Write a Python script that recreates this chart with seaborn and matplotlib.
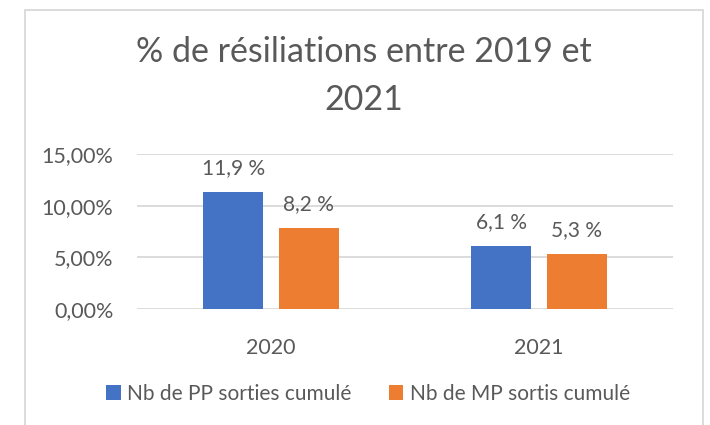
import matplotlib
matplotlib.use("Agg")
import matplotlib.pyplot as plt
import matplotlib.ticker as mticker
from matplotlib.patches import Rectangle
import seaborn as sns
import pandas as pd

years = ["2020", "2021"]
series = ["Nb de PP sorties cumulé", "Nb de MP sortis cumulé"]
pp_values = [11.35, 6.1]
mp_values = [7.8, 5.3]
pp_labels = ["11,9 %", "6,1 %"]
mp_labels = ["8,2 %", "5,3 %"]
yticks = [0, 5, 10, 15]
title = "% de résiliations entre 2019 et\n2021"

colors = ["#4472C4", "#ED7D31"]
text_color = "#595959"
grid_color = "#D9D9D9"

df = pd.DataFrame({
    "year": years * 2,
    "series": [series[0]] * len(years) + [series[1]] * len(years),
    "value": pp_values + mp_values,
})

sns.set_theme(style="white")
plt.rcParams["font.family"] = ["Lato", "DejaVu Sans"]

W, H = 710, 425
fig = plt.figure(figsize=(W / 100, H / 100), dpi=100)
ax = fig.add_axes([137 / W, 1 - 309 / H, (673 - 137) / W, (309 - 154) / H])

sns.barplot(data=df, x="year", y="value", hue="series", order=years,
            hue_order=series, palette=colors, width=0.56, gap=0.2,
            saturation=1, ax=ax, legend=True, edgecolor="none")

for cont, labs in zip(ax.containers, [pp_labels, mp_labels]):
    ax.bar_label(cont, labels=labs, padding=10, fontsize=15, color=text_color)

ax.set_xlim(-0.5, 1.5)
ax.set_ylim(0, 15)
ax.set_yticks(yticks)
ax.yaxis.set_major_formatter(mticker.FuncFormatter(lambda v, p: f"{v:.2f}%".replace(".", ",")))
ax.grid(axis="y", color=grid_color, linewidth=1.3)
ax.set_axisbelow(True)
for s in ax.spines.values():
    s.set_visible(False)
ax.tick_params(axis="y", length=0, pad=17, labelsize=15.5, labelcolor=text_color)
ax.tick_params(axis="x", length=0, pad=21, labelsize=15.5, labelcolor=text_color)
ax.set_xlabel("")
ax.set_ylabel("")

handles, labels = ax.get_legend_handles_labels()
ax.get_legend().remove()
fig.legend(handles, labels, loc="center", bbox_to_anchor=(368 / W, 1 - 394 / H),
           ncol=2, frameon=False, fontsize=15, labelcolor=text_color,
           handlelength=0.7, handleheight=0.7, handletextpad=0.3, columnspacing=1.8)

fig.text(364 / W, 1 - 36 / H, title, ha="center", va="top", fontsize=24.5,
         color=text_color, linespacing=1.6)

fig.add_artist(Rectangle((25 / W, -0.05), (703 - 25) / W, 1 - 10 / H + 0.05,
                         transform=fig.transFigure, fill=False,
                         edgecolor=grid_color, linewidth=1.3))

fig.savefig("out.png", dpi=100)
